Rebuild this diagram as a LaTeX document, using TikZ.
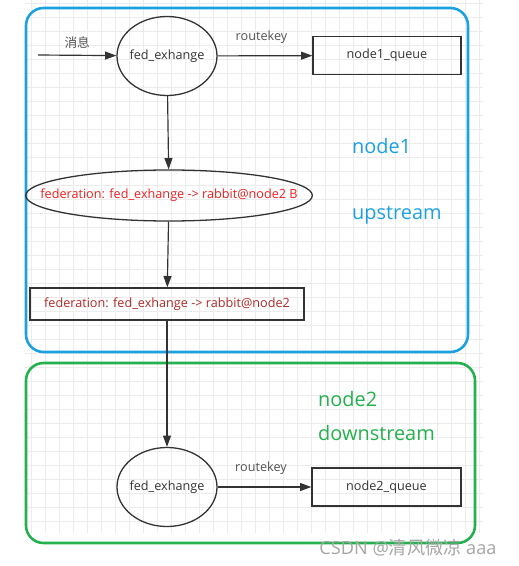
\documentclass[tikz,border=0pt]{standalone}
\usepackage{fontspec}
\setmainfont{Open Sans}
\newfontfamily\cjk{Noto Sans CJK SC}
\usepackage{xcolor}
\usepackage{tikz}
\usetikzlibrary {arrows.meta,shapes.geometric,positioning}
\definecolor{upblue}{RGB}{27,161,226}
\definecolor{downgreen}{RGB}{34,177,76}
\definecolor{linegray}{RGB}{51,51,51}
\definecolor{fedred}{RGB}{240,30,30}
\definecolor{darkred}{RGB}{178,40,40}
\definecolor{gridgray}{RGB}{236,236,236}
\newcommand{\nowidth}[1]{\makebox[0pt]{#1}}

\begin{document}
\begin{tikzpicture}[x=0.03cm, y=-0.03cm,
  exch/.style = {draw=linegray, line width=1.1pt, ellipse, inner sep=0pt,
                 minimum width=3cm, minimum height=2.37cm, font=\fontsize{10.8}{13}\selectfont, text=linegray},
  queue/.style = {draw=linegray, line width=1.1pt, rectangle, inner sep=0pt,
                  minimum width=4.44cm, minimum height=1.12cm, font=\fontsize{10.8}{13}\selectfont, text=linegray},
  flow/.style = {draw=linegray, line width=1pt, -{Triangle[length=3.4mm,width=2.4mm]}},
  lbl/.style = {font=\fontsize{10.8}{13}\selectfont, text=linegray!85},
  big/.style = {anchor=west, inner sep=0pt, font=\fontsize{17}{20}\selectfont}]

\useasboundingbox (0,0) rectangle (518,566);

% background grid
\foreach \x in {31.3,45.3,...,483} \draw[gridgray, line width=0.5pt] (\x,0) -- (\x,533);
\foreach \y in {3.7,17.7,...,533} \draw[gridgray, line width=0.5pt] (25,\y) -- (483,\y);

% the two brokers
\draw[upblue, line width=2.2pt, rounded corners=15] (26,8) rectangle (468,352);
\draw[downgreen, line width=2.2pt, rounded corners=15] (26,363) rectangle (475,543);

\node[big, text=upblue] (n1) at (352,146) {node1};
\node[big, text=upblue] (up) at (352,215) {upstream};
\node[big, text=downgreen] (n2) at (318,399) {node2};
\node[big, text=downgreen] (down) at (318,433) {downstream};

% node1
\coordinate (msg) at (38,55);
\node (ex1) at (167,56) [exch]{\nowidth{fed\_exhange}};
\node (q1) at (387,55.5) [queue]{node1\_queue};
\node (fed) at (169,195.5) [exch, minimum width=8.6cm, minimum height=1.53cm, text=fedred]{\nowidth{federation: fed\_exhange -> rabbit@node2 B}};
\node (link) at (167,304) [queue, minimum width=8.22cm, minimum height=0.96cm, text=darkred]{federation: fed\_exhange -> rabbit@node2};

% node2
\node (ex2) at (167,487) [exch]{\nowidth{fed\_exhange}};
\node (q2) at (386.5,487) [queue, minimum width=4.47cm, minimum height=1.14cm]{node2\_queue};

\draw[flow] (msg) -- node[lbl, above=2pt]{\cjk 消息} (ex1);
\draw[flow] (ex1) -- node[lbl, above=7pt, xshift=-3pt]{routekey} (q1);
\draw[flow] (ex1) -- (fed);
\draw[flow] (fed) -- (link);
\draw[flow] (link) -- (ex2);
\draw[flow] (ex2) -- node[lbl, above=7pt, xshift=-3pt]{routekey} (q2);

\node (mark) at (408,548) [text=gray!70, font=\fontsize{15.5}{18}\selectfont]{CSDN @\cjk 清风微凉\rmfamily{} aaa};

\end{tikzpicture}
\end{document}
